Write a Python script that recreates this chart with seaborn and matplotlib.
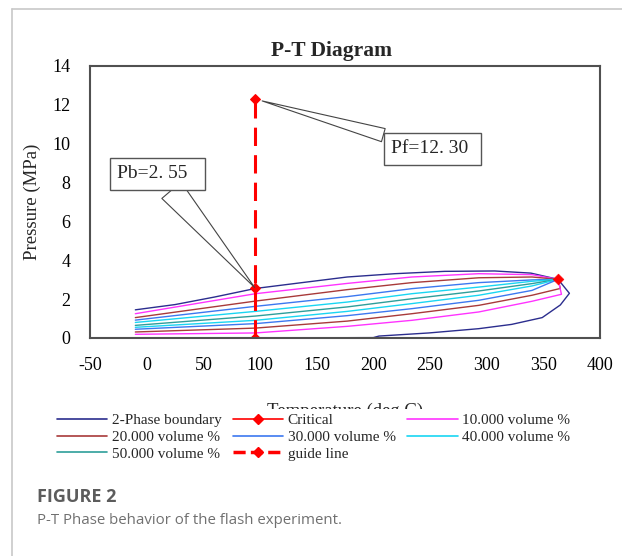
import numpy as np
import pandas as pd
import matplotlib
matplotlib.use("Agg")
import matplotlib.pyplot as plt
import seaborn as sns
from matplotlib.lines import Line2D

# ---------------- data ----------------
boundary_T = [-10, 25, 60, 96, 137, 177, 219, 263, 307, 339, 363, 373, 365, 349, 322, 293, 249, 205, 200, 96, 20]
boundary_P = [1.45, 1.72, 2.11, 2.55, 2.85, 3.14, 3.31, 3.43, 3.45, 3.34, 3.02, 2.30, 1.70, 1.05, 0.70, 0.48, 0.26, 0.10, 0.02, 0.0, 0.0]

q_T = [-10, 96, 177, 234, 293, 340, 363]
vol10_P = [1.25, 2.28, 2.81, 3.14, 3.31, 3.26, 3.02]
vol20_P = [1.05, 1.90, 2.49, 2.85, 3.10, 3.14, 3.02]
vol30_P = [0.92, 1.63, 2.13, 2.54, 2.85, 2.99, 3.02]
vol40_P = [0.80, 1.37, 1.85, 2.28, 2.62, 2.92, 3.02]
vol50_P = [0.65, 1.13, 1.60, 2.02, 2.42, 2.80, 3.02]
vol60_P = [0.55, 0.91, 1.37, 1.77, 2.20, 2.68, 3.02]
vol70_P = [0.45, 0.74, 1.15, 1.51, 1.94, 2.45, 3.02]
vol80_T = [-10, 96, 177, 234, 293, 340, 365, 363]
vol80_P = [0.31, 0.51, 0.87, 1.25, 1.68, 2.20, 2.55, 3.02]
vol90_T = [-10, 96, 177, 234, 293, 340, 366, 363]
vol90_P = [0.19, 0.26, 0.60, 0.91, 1.34, 1.89, 2.25, 3.02]

critical_T = [363]
critical_P = [3.02]
guide_T = [96, 96, 96]
guide_P = [0.0, 2.55, 12.30]

x_ticks = [-50, 0, 50, 100, 150, 200, 250, 300, 350, 400]
y_ticks = [0, 2, 4, 6, 8, 10, 12, 14]

legend_labels = ["2-Phase boundary", "Critical", "10.000 volume %",
                 "20.000 volume %", "30.000 volume %", "40.000 volume %",
                 "50.000 volume %", "guide line"]

# ---------------- style ----------------
sns.set_style("white")
plt.rcParams['font.family'] = ['Liberation Serif', 'DejaVu Serif']
plt.rcParams['axes.unicode_minus'] = False

NAVY = '#2B2D8E'
MAGENTA = '#FF33FF'
BROWN = '#A83A3A'
BLUE = '#3C78F0'
CYAN = '#19D6F2'
TEAL = '#2E9E9A'
RED = '#FF0000'

fig = plt.figure(figsize=(6.22, 5.56), dpi=100)
ax = fig.add_axes([90/622, 1-338/556, 510/622, 272/556])

series = [
    (boundary_T, boundary_P, NAVY),
    (q_T, vol10_P, MAGENTA),
    (q_T, vol20_P, BROWN),
    (q_T, vol30_P, BLUE),
    (q_T, vol40_P, CYAN),
    (q_T, vol50_P, TEAL),
    (q_T, vol60_P, CYAN),
    (q_T, vol70_P, BLUE),
    (vol80_T, vol80_P, BROWN),
    (vol90_T, vol90_P, MAGENTA),
]
for T, P, c in series:
    sns.lineplot(x=T, y=P, sort=False, estimator=None, color=c, lw=1.0,
                 ax=ax, legend=False)

# guide line
sns.lineplot(x=guide_T, y=guide_P, sort=False, estimator=None, color=RED,
             lw=2.2, linestyle=(0, (6, 3)), marker='D', markersize=5,
             markeredgecolor=RED, ax=ax, legend=False)
# critical point
sns.scatterplot(x=critical_T, y=critical_P, marker='D', color=RED, s=30,
                edgecolor=RED, ax=ax, legend=False, zorder=5)

ax.set_xlim(-50, 400)
ax.set_ylim(0, 14)
ax.set_xticks(x_ticks)
ax.set_yticks(y_ticks)
ax.tick_params(axis='both', direction='in', length=5, width=1, color='#333333',
               labelsize=13, labelcolor='black')
ax.tick_params(axis='x', pad=14)
ax.tick_params(axis='y', pad=14)
for s in ax.spines.values():
    s.set_color('#505050')
    s.set_linewidth(1.5)

ax.set_title("P-T Diagram", fontsize=15.5, fontweight='bold', x=0.473, pad=7)
ax.set_ylabel("Pressure (MPa)", fontsize=13.5, labelpad=8)
ax.set_xlabel("Temperature (deg C)", fontsize=13.5, labelpad=20)

# callouts
ax.annotate("Pb=2. 55  ", xy=(96, 2.55), xytext=(9.5, 8.45), ha='center', va='center',
            fontsize=14, family=['Liberation Serif'],
            bbox=dict(boxstyle='square,pad=0.38', fc='white', ec='#555555', lw=1.0),
            arrowprops=dict(arrowstyle='wedge,tail_width=1.3,shrink_factor=0.5',
                            fc='white', ec='#444444', lw=0.8, shrinkA=0, shrinkB=1))
ax.annotate("Pf=12. 30 ", xy=(96, 12.30), xytext=(252, 9.73), ha='center', va='center',
            fontsize=14, family=['Liberation Serif'],
            bbox=dict(boxstyle='square,pad=0.38', fc='white', ec='#555555', lw=1.0),
            arrowprops=dict(arrowstyle='wedge,tail_width=0.7,shrink_factor=0.5',
                            fc='white', ec='#444444', lw=0.8, shrinkA=0, shrinkB=5))

# legend (column-major order for 3 columns)
h = {
    "2-Phase boundary": Line2D([], [], color=NAVY, lw=1.2),
    "Critical": Line2D([], [], color=RED, lw=1.2, marker='D', ms=5),
    "10.000 volume %": Line2D([], [], color=MAGENTA, lw=1.2),
    "20.000 volume %": Line2D([], [], color=BROWN, lw=1.2),
    "30.000 volume %": Line2D([], [], color=BLUE, lw=1.2),
    "40.000 volume %": Line2D([], [], color=CYAN, lw=1.2),
    "50.000 volume %": Line2D([], [], color=TEAL, lw=1.2),
    "guide line": Line2D([], [], color=RED, lw=2.5, ls=(0, (3.5, 1.5)), marker='D', ms=5),
}
order = [legend_labels[i] for i in [0, 3, 6, 1, 4, 7, 2, 5]]
leg = ax.legend([h[k] for k in order], order, ncol=3, loc='upper left',
                bbox_to_anchor=(52/622, 1-409/556), bbox_transform=fig.transFigure,
                fontsize=11, handlelength=3.3, handletextpad=0.3, columnspacing=0.75,
                labelspacing=0.2, borderpad=0.3, frameon=True, fancybox=False,
                framealpha=1, facecolor='white', edgecolor='none', borderaxespad=0)

# outer frame of the figure panel
fig.add_artist(Line2D([12/622, 1], [1-9/556, 1-9/556], transform=fig.transFigure,
                      color='#c8c8c8', lw=1.2))
fig.add_artist(Line2D([12/622, 12/622], [1-9/556, 0], transform=fig.transFigure,
                      color='#c8c8c8', lw=1.2))

fig.text(37/622, 1-497/556, "FIGURE 2", fontsize=13, fontweight='bold',
         color='#5c5c5c', family=['Open Sans', 'DejaVu Sans'], va='center', ha='left')
fig.text(37/622, 1-520/556, "P-T Phase behavior of the flash experiment.", fontsize=10.8,
         color='#707070', family=['Open Sans', 'DejaVu Sans'], va='center', ha='left')

fig.savefig("out.png", dpi=100)
